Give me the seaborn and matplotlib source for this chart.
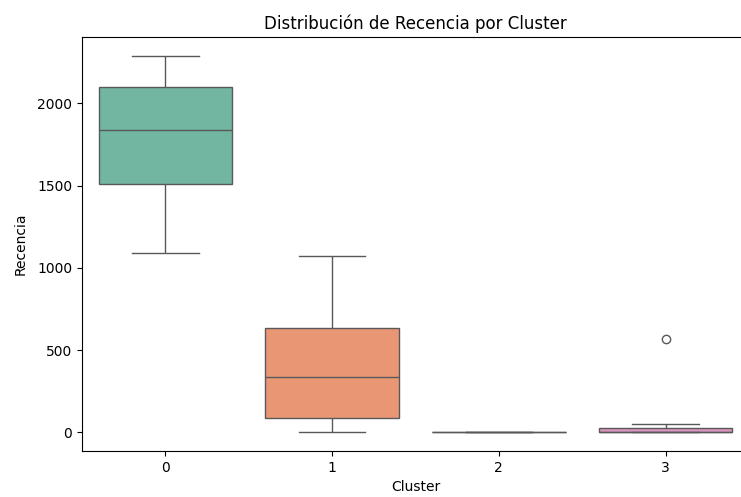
import numpy as np
import pandas as pd
import matplotlib
matplotlib.use("Agg")
import matplotlib.pyplot as plt
import seaborn as sns

# Recency (days) observed per customer, grouped by cluster
recencia_c0 = [1092, 1513, 1840, 2100, 2290]
recencia_c1 = [0, 87, 334, 634, 1073]
recencia_c2 = [0, 0, 0, 1, 1, 1, 2]
recencia_c3 = [0, 0, 1, 2, 3, 15, 26, 48, 569]

clusters = [0, 1, 2, 3]
valores = [recencia_c0, recencia_c1, recencia_c2, recencia_c3]

df = pd.DataFrame({
    "Cluster": np.concatenate([[c] * len(v) for c, v in zip(clusters, valores)]),
    "Recencia": np.concatenate(valores),
})

fig = plt.figure(figsize=(7.41, 4.97), dpi=100)
ax = fig.add_axes([82 / 741, 1 - 451 / 497, (749 - 82) / 741, (451 - 37) / 497])

sns.boxplot(data=df, x="Cluster", y="Recencia", hue="Cluster",
            palette="Set2", legend=False, ax=ax)

ax.set_title("Distribución de Recencia por Cluster")
ax.set_xlabel("Cluster")
ax.set_ylabel("Recencia", labelpad=7)

fig.savefig("out.png", dpi=100)
